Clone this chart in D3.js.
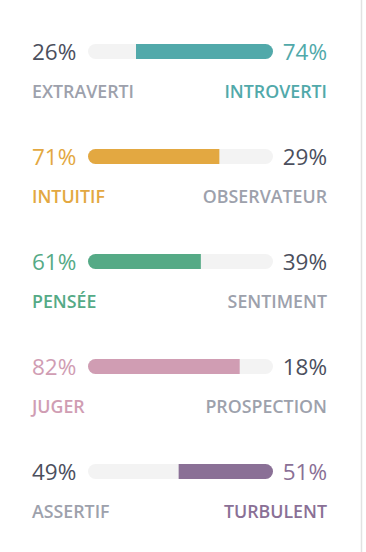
<!DOCTYPE html>
<html>
<head>
<meta charset="utf-8">
<script src="https://cdn.jsdelivr.net/npm/d3@7"></script>
<style>
  html, body { margin: 0; padding: 0; background: #fff; }
  svg text { font-family: "Open Sans", sans-serif; }
</style>
</head>
<body>
<svg id="chart"></svg>
<script>
// traits, one entry per row
const leftLabels = ['EXTRAVERTI', 'INTUITIF', 'PENSÉE', 'JUGER', 'ASSERTIF'];
const rightLabels = ['INTROVERTI', 'OBSERVATEUR', 'SENTIMENT', 'PROSPECTION', 'TURBULENT'];
const leftValues = [26, 71, 61, 82, 49];
const rightValues = [74, 29, 39, 18, 51];
const dominant = ['right', 'left', 'left', 'left', 'right'];
const colors = ['#51a9aa', '#e3a841', '#55aa86', '#d09db3', '#8a7096'];

const width = 366, height = 552;
const dark = '#4b4f5d', grey = '#9da1ac', track = '#f3f3f3';

const rows = leftLabels.map((l, i) => ({
  left: l, right: rightLabels[i],
  lv: leftValues[i], rv: rightValues[i],
  side: dominant[i], color: colors[i]
}));

const svg = d3.select('#chart')
  .attr('width', width)
  .attr('height', height);

// divider on the right
svg.append('line')
  .attr('x1', 361.5).attr('x2', 361.5)
  .attr('y1', 0).attr('y2', height)
  .attr('stroke', '#e2e2e2')
  .attr('stroke-width', 1.5);

const y = d3.scaleBand()
  .domain(d3.range(rows.length))
  .range([0, 525]);

const x = d3.scaleLinear()
  .domain([0, 100])
  .range([88, 273]);

const barH = 15;

const g = svg.selectAll('g.row')
  .data(rows)
  .join('g')
  .attr('class', 'row')
  .attr('transform', (d, i) => `translate(0, ${y(i)})`);

// background track
g.append('rect')
  .attr('x', x(0))
  .attr('y', 44)
  .attr('width', x(100) - x(0))
  .attr('height', barH)
  .attr('rx', barH / 2)
  .attr('fill', track);

// coloured part, clipped so only the outer end is rounded
g.each(function(d, i) {
  const row = d3.select(this);
  const id = 'clip' + i;
  const x0 = d.side == 'left' ? x(0) : x(d.lv);
  const x1 = d.side == 'left' ? x(d.lv) : x(100);
  row.append('clipPath').attr('id', id)
    .append('rect')
    .attr('x', x0).attr('y', 44)
    .attr('width', x1 - x0).attr('height', barH);
  row.append('rect')
    .attr('clip-path', `url(#${id})`)
    .attr('x', x(0))
    .attr('y', 44)
    .attr('width', x(100) - x(0))
    .attr('height', barH)
    .attr('rx', barH / 2)
    .attr('fill', d.color);
});

// percentages
g.append('text')
  .attr('x', 32).attr('y', 60)
  .attr('font-size', 22.5)
  .attr('fill', d => d.side == 'left' ? d.color : dark)
  .text(d => d.lv + '%');

g.append('text')
  .attr('x', 327).attr('y', 60)
  .attr('text-anchor', 'end')
  .attr('font-size', 22.5)
  .attr('fill', d => d.side == 'right' ? d.color : dark)
  .text(d => d.rv + '%');

// trait labels
g.append('text')
  .attr('x', 32).attr('y', 98)
  .attr('font-size', 17.8)
  .attr('font-weight', 600)
  .attr('fill', d => d.side == 'left' ? d.color : grey)
  .text(d => d.left);

g.append('text')
  .attr('x', 327).attr('y', 98)
  .attr('text-anchor', 'end')
  .attr('font-size', 17.8)
  .attr('font-weight', 600)
  .attr('fill', d => d.side == 'right' ? d.color : grey)
  .text(d => d.right);
</script>
</body>
</html>
